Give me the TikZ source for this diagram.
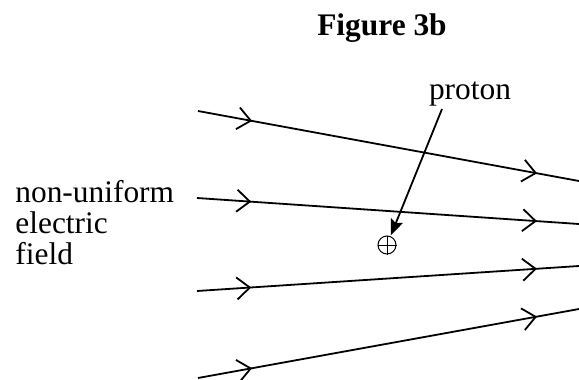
\documentclass[tikz,border=0pt]{standalone}
\usepackage{fontspec}
\setmainfont{Liberation Serif}
\usetikzlibrary{arrows.meta,decorations.markings}

\tikzset{
  fieldline/.style={line width=0.9pt, postaction={decorate},
    decoration={markings,
      mark=at position 0.142 with {\arrow{Straight Barb[length=6.5pt,width=11pt]}},
      mark=at position 0.89 with {\arrow{Straight Barb[length=6.5pt,width=11pt]}}}},
  txt/.style={inner sep=0pt, font=\fontsize{15.7}{15.5}\selectfont},
  pointer/.style={line width=0.9pt, -{Stealth[length=8pt,width=6.5pt,inset=1.5pt]}, shorten >=0.5pt},
  chargemark/.style={circle, draw, line width=0.5pt, minimum size=9pt, inner sep=0pt}
}

\begin{document}
\begin{tikzpicture}[x=0.5pt,y=-0.5pt]
  \useasboundingbox (0,0) rectangle (579,380);
  % titles
  \node[txt, anchor=base, font=\fontsize{15.7}{15.5}\selectfont\bfseries] (title) at (382,35) {Figure 3b};
  \node[txt, anchor=base west, align=left] (fieldtxt) at (15,264) {non-uniform\\electric\\field};
  % field lines
  \coordinate (a1) at (198,111); \coordinate (b1) at (579,181);
  \coordinate (a2) at (197,198); \coordinate (b2) at (579,224);
  \coordinate (a3) at (197,291); \coordinate (b3) at (579,266);
  \coordinate (a4) at (198,378); \coordinate (b4) at (579,309);
  \draw[fieldline] (a1) -- (b1);
  \draw[fieldline] (a2) -- (b2);
  \draw[fieldline] (a3) -- (b3);
  \draw[fieldline] (a4) -- (b4);
  % proton
  \node[chargemark] (proton) at (387,245) {};
  \draw[line width=0.5pt] (proton.north) -- (proton.south) (proton.west) -- (proton.east);
  \node[txt, anchor=base] (protontxt) at (470,99) {proton};
  \coordinate (ptr) at (442,109);
  \draw[pointer] (ptr) -- (proton);
\end{tikzpicture}
\end{document}
